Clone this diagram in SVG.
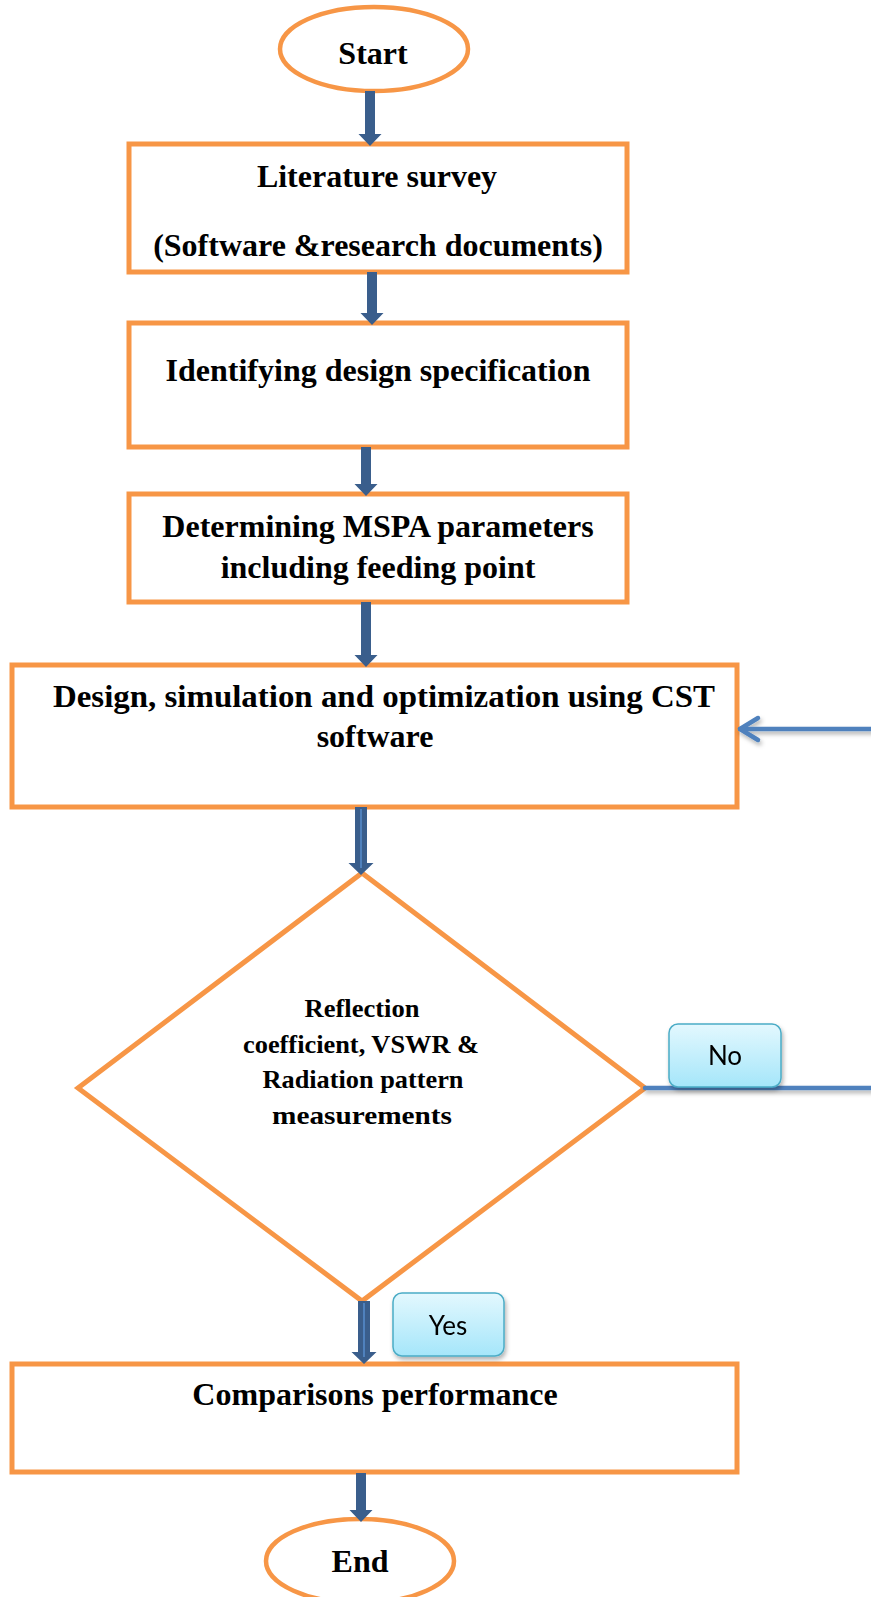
<svg xmlns="http://www.w3.org/2000/svg" width="871" height="1597" viewBox="0 0 871 1597">
<style>
.box{fill:#fff;stroke:#F79646;stroke-width:5}
.oval{fill:#fff;stroke:#F79646;stroke-width:4.5}
.t{font-family:"Liberation Serif","Times New Roman",serif;font-weight:bold;fill:#000;text-anchor:middle}
.big{font-size:32px}
.dt{font-size:25px}
.arr{fill:#3A5E8C}
.stripe{stroke:#4F81BD;stroke-width:2}
.lbl{fill:url(#lg);stroke:#4BACC6;stroke-width:1.5}
.lt{font-family:Lato,"Liberation Sans",sans-serif;font-size:26px;fill:#000;text-anchor:middle}
.fb{fill:none;stroke:#4F81BD;stroke-width:4.5;stroke-linecap:round;stroke-linejoin:round}
</style>
<defs>
<linearGradient id="lg" x1="0" y1="0" x2="0" y2="1">
<stop offset="0" stop-color="#E3F8FE"/>
<stop offset="1" stop-color="#A5E6FA"/>
</linearGradient>
<filter id="sh" x="-20%" y="-20%" width="140%" height="160%">
<feDropShadow dx="1.5" dy="3" stdDeviation="2" flood-color="#000" flood-opacity="0.3"/>
</filter>
</defs>

<g id="start">
<ellipse class="oval" cx="374" cy="49" rx="94" ry="42"/>
<text class="t big" x="373" y="64">Start</text>
</g>

<g id="literature">
<rect class="box" x="129" y="144" width="498" height="128"/>
<text class="t big" x="377" y="187">Literature survey</text>
<text class="t big" x="378" y="256">(Software &amp;research documents)</text>
</g>

<g id="identify">
<rect class="box" x="129" y="323" width="498" height="124"/>
<text class="t big" x="378" y="381">Identifying design specification</text>
</g>

<g id="determine">
<rect class="box" x="129" y="494" width="498" height="108"/>
<text class="t big" x="378" y="537">Determining MSPA parameters</text>
<text class="t big" x="378" y="578">including feeding point</text>
</g>

<g id="design">
<rect class="box" x="12" y="665" width="725" height="142"/>
<text class="t big" x="384" y="707" textLength="662" lengthAdjust="spacingAndGlyphs">Design, simulation and optimization using CST</text>
<text class="t big" x="375" y="747">software</text>
</g>

<g id="decision">
<polygon class="box" stroke-width="4.5" points="362,873 645,1088 362,1301 78,1088"/>
<text class="t dt" x="362" y="1017" textLength="115" lengthAdjust="spacingAndGlyphs">Reflection</text>
<text class="t dt" x="361" y="1053" textLength="236" lengthAdjust="spacingAndGlyphs">coefficient, VSWR &amp;</text>
<text class="t dt" x="363" y="1088" textLength="201" lengthAdjust="spacingAndGlyphs">Radiation pattern</text>
<text class="t dt" x="362" y="1124" textLength="180" lengthAdjust="spacingAndGlyphs">measurements</text>
</g>

<g id="compare">
<rect class="box" x="12" y="1364" width="725" height="108"/>
<text class="t big" x="375" y="1405">Comparisons performance</text>
</g>

<g id="end">
<ellipse class="oval" cx="360" cy="1561" rx="94" ry="42"/>
<text class="t big" x="360" y="1572">End</text>
</g>

<g id="connectors">
<polygon class="arr" points="365,91 375,91 375,134 381.5,134 370,146 358.5,134 365,134"/>
<polygon class="arr" points="367,272 377,272 377,313 383.5,313 372,325 360.5,313 367,313"/>
<polygon class="arr" points="361,447 371,447 371,484 377.5,484 366,496 354.5,484 361,484"/>
<polygon class="arr" points="361,602 371,602 371,655 377.5,655 366,667 354.5,655 361,655"/>
<polygon class="arr" points="355,807 367,807 367,863 373.5,863 361,875 348.5,863 355,863"/>
<line class="stripe" x1="361" y1="809" x2="361" y2="868"/>
<polygon class="arr" points="358,1301 370,1301 370,1352 376.5,1352 364,1364 351.5,1352 358,1352"/>
<line class="stripe" x1="364" y1="1303" x2="364" y2="1357"/>
<polygon class="arr" points="356,1473 366,1473 366,1510 372.5,1510 361,1522 349.5,1510 356,1510"/>
<g filter="url(#sh)">
<path class="fb" d="M645,1088 H890 V729 H740"/>
<polyline class="fb" points="758,718 740,729 758,740"/>
</g>
</g>

<g id="label-no" filter="url(#sh)">
<rect class="lbl" x="669" y="1024" width="112" height="63" rx="9"/>
<text class="lt" x="725" y="1065">No</text>
</g>

<g id="label-yes" filter="url(#sh)">
<rect class="lbl" x="393" y="1293" width="111" height="63" rx="9"/>
<text class="lt" x="448" y="1335">Yes</text>
</g>
</svg>
